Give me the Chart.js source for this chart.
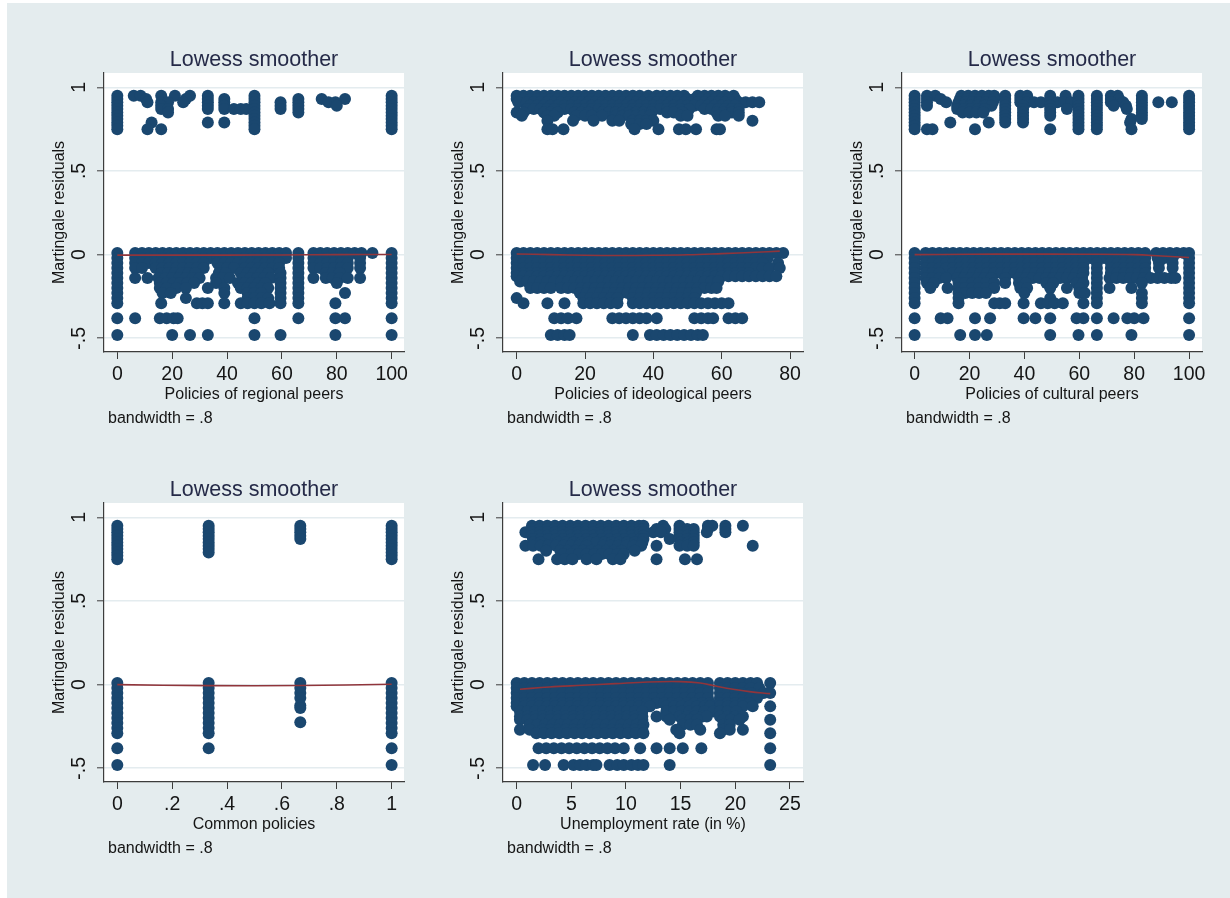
<!DOCTYPE html>
<html>
<head>
<meta charset="utf-8">
<title>Lowess smoothers of Martingale residuals</title>
<script src="https://cdn.jsdelivr.net/npm/chart.js@4.4.1/dist/chart.umd.min.js"></script>
<style>
  html, body { margin: 0; padding: 0; background: #ffffff; width: 1230px; height: 898px; overflow: hidden; }
  #graph { position: absolute; left: 7px; top: 3px; width: 1223px; height: 895px; background: #e4ecee; }
  canvas { position: absolute; }
</style>
</head>
<body>
<div id="graph"></div>
<script>
// ---------- axis ticks ----------
const yTickValues = [-0.5, 0, 0.5, 1];
const yTickLabels = ['-.5', '0', '.5', '1'];
const peerTickValues = [0, 20, 40, 60, 80, 100];
const peerTickLabels = ['0', '20', '40', '60', '80', '100'];
const ideoTickValues = [0, 20, 40, 60, 80];
const ideoTickLabels = ['0', '20', '40', '60', '80'];
const commonTickValues = [0, 0.2, 0.4, 0.6, 0.8, 1];
const commonTickLabels = ['0', '.2', '.4', '.6', '.8', '1'];
const unempTickValues = [0, 5, 10, 15, 20, 25];
const unempTickLabels = ['0', '5', '10', '15', '20', '25'];

// ---------- residuals: each row is [residual, [covariate values]] ----------
const regionalRows = [
  [0.95, [0, 6, 8.5, 16, 21, 26.5, 33, 50, 100]],
  [0.93, [0, 10.5, 25, 33, 39, 50, 66, 74.5, 83, 100]],
  [0.91, [0, 11, 16, 18.5, 24, 33, 39, 50, 59.5, 66, 77, 79.5, 100]],
  [0.89, [0, 16, 33, 39, 50, 59.5, 66, 80, 100]],
  [0.87, [0, 16, 18.5, 33, 39, 42.5, 45, 47, 50, 59.5, 66, 100]],
  [0.85, [0, 18.5, 50, 66, 100]],
  [0.83, [0, 50, 100]],
  [0.81, [0, 50, 100]],
  [0.79, [0, 12.5, 33, 39, 50, 100]],
  [0.77, [0, 50, 100]],
  [0.75, [0, 11, 16, 50, 100]],
  [0.01, [0, 6.5, 9, 11.5, 14, 16.5, 19, 21.5, 24, 26.5, 29, 31.5, 34, 36.5, 39, 41.5, 44, 46.5, 49, 51.5, 54, 56.5, 59, 61.5, 66, 71.5, 74, 76.5, 79, 81.5, 84, 86.5, 89, 93, 100]],
  [-0.02, [0, 6.5, 9, 11.5, 14, 16.5, 19, 21.5, 24, 26.5, 29, 31.5, 34, 36.5, 39, 41.5, 44, 46.5, 49, 51.5, 54, 56.5, 59, 61.5, 66, 71.5, 74, 76.5, 79, 81.5, 84, 88.5, 100]],
  [-0.05, [0, 6.5, 9, 11.5, 14, 16.5, 19, 21.5, 24, 26.5, 29, 31.5, 36.5, 39, 41.5, 44, 46.5, 49, 51.5, 54, 56.5, 59, 66, 71.5, 74, 76.5, 79, 81.5, 84, 88.5, 100]],
  [-0.08, [0, 6.5, 9, 14, 16.5, 19, 21.5, 24, 26.5, 29, 31.5, 37.5, 40, 42.5, 46.5, 49, 51.5, 54, 56.5, 59, 66, 71.5, 74, 76.5, 79, 81.5, 84, 88.5, 100]],
  [-0.11, [0, 16, 18.5, 21, 23.5, 26, 28.5, 37, 39.5, 45, 47.5, 50, 52.5, 55, 59.5, 66, 76, 78.5, 81, 100]],
  [-0.14, [0, 6.5, 11, 15, 17.5, 20, 22.5, 25, 27.5, 30, 36, 38.5, 41, 46, 48.5, 51, 53.5, 56, 59.5, 66, 71.5, 76, 78.5, 81, 84, 88.5, 100]],
  [-0.17, [0, 15.5, 18, 20.5, 23, 25.5, 28, 36, 44, 46.5, 49, 51.5, 54, 59.5, 66, 80, 100]],
  [-0.2, [0, 15.5, 18, 21.5, 25, 33, 39, 45, 47.5, 50, 52.5, 55, 59.5, 66, 100]],
  [-0.23, [0, 16.5, 19.5, 39, 47.5, 50, 52.5, 59.5, 66, 83, 100]],
  [-0.26, [0, 25, 47.5, 50, 52.5, 55, 59.5, 66, 100]],
  [-0.29, [0, 16, 29, 31, 33, 39, 45, 47.5, 50, 52.5, 55.5, 59.5, 66, 79.5, 100]],
  [-0.38, [0, 6.5, 15.5, 18, 20.5, 22, 50, 66, 79.5, 83, 100]],
  [-0.48, [0, 20, 26.5, 33, 50, 59.5, 79.5, 100]]
];

const ideologicalRows = [
  [0.95, [0, 2, 4, 6, 8, 10, 12, 14, 16, 18, 20, 22, 24, 26, 28, 30, 32, 34, 36, 38.5, 41, 43, 45, 47, 49, 53, 55, 57, 59, 61, 63.5]],
  [0.93, [0, 2, 4, 6, 8, 10, 12, 14, 16, 18, 20, 22, 24, 26, 28, 30, 32, 34, 36, 38, 40, 42, 44, 46, 48, 50, 52, 54, 56, 58, 60, 62, 64]],
  [0.91, [0.5, 3, 5, 7, 9, 11, 13, 15, 17, 19, 21, 23, 25, 27, 29, 31, 33, 35, 37, 39, 41, 43, 45, 47, 49, 51, 53, 55, 57, 59, 61, 63, 65, 67, 69, 71]],
  [0.89, [4, 6, 8, 10, 12, 14, 16, 18, 20, 22, 24, 26, 28, 30, 32, 34, 36, 38, 40, 42, 44, 46, 48, 50, 52, 54, 56, 58, 60, 62, 64]],
  [0.87, [3, 5, 7, 9, 11, 14, 16, 18, 20, 22, 24, 26, 28, 30, 32, 34, 36, 38, 40, 42, 44, 46, 48, 50.5, 55, 57, 59, 61, 63, 65]],
  [0.85, [0, 2, 8, 10, 12, 17, 19, 21, 25, 27, 29, 31, 33, 35, 37, 39.5, 44, 46, 48.5, 58.5, 60.5, 63, 65]],
  [0.83, [1.5, 9, 11, 17.5, 20, 22, 25, 29, 31, 33, 35, 37, 39, 48, 50, 59, 61, 65]],
  [0.8, [9, 16.5, 22.5, 28, 30, 34, 36, 38, 40, 69]],
  [0.78, [33.5, 36, 38]],
  [0.75, [9, 10.5, 13.7, 34.5, 41.5, 47.5, 49.5, 52.5, 58.5, 59.5]],
  [0.01, [0, 2, 4, 6, 8, 10, 12, 14, 16, 18, 20, 22, 24, 26, 28, 30, 32, 34, 36, 38, 40, 42, 44, 46, 48, 50, 52, 54, 56, 58, 60, 62, 64, 66, 68, 70, 72, 74, 76, 78]],
  [-0.02, [0, 2, 4, 6, 8, 10, 12, 14, 16, 18, 20, 22, 24, 26, 28, 30, 32, 34, 36, 38, 40, 42, 44, 46, 48, 50, 52, 54, 56, 58, 60, 62, 64, 66, 68, 70, 72, 73.5]],
  [-0.05, [0, 2, 4, 6, 8, 10, 12, 14, 16, 18, 20, 22, 24, 26, 28, 30, 32, 34, 36, 38, 40, 42, 44, 46, 48, 50, 52, 54, 56, 58, 60, 62, 64, 66, 68, 70, 72, 76.5]],
  [-0.08, [0, 2, 4, 6, 8, 10, 12, 14, 16, 18, 20, 22, 24, 26, 28, 30, 32, 34, 36, 38, 40, 42, 44, 46, 48, 50, 52, 54, 56, 58, 60, 62, 64, 66, 68, 70, 72, 74, 77]],
  [-0.11, [0, 2, 4, 6, 8, 10, 12, 14, 16, 18, 20, 22, 24, 26, 28, 30, 32, 34, 36, 38, 40, 42, 44, 46, 48, 50, 52, 54, 56, 58, 60, 62, 64, 66, 68]],
  [-0.13, [0, 2, 4, 6, 8, 10, 12, 14, 16, 18, 20, 22, 24, 26, 28, 30, 32, 34, 36, 38, 40, 42, 44, 46, 48, 50, 52, 54, 56, 58, 60, 62, 64, 66, 68, 70, 72, 74, 76]],
  [-0.16, [1, 3, 5, 7, 9, 11, 13, 15, 17, 19, 21, 23, 25, 27, 29, 31, 33, 35, 37, 39, 41, 43, 45, 47, 49, 51, 53, 55, 57, 59]],
  [-0.2, [4, 6, 8, 10, 13, 15, 17, 19, 21, 23, 25, 27, 29, 31, 33, 35, 37, 39, 41, 43, 45, 47, 49, 51, 53, 55, 57, 58.5]],
  [-0.23, [18.5, 20.5, 22.5, 24.5, 26.5, 28.5, 30.5, 32.5, 34.5, 36.5, 38.5, 40.5, 42.5, 44.5, 46.5, 48.5, 50.5, 52.5]],
  [-0.26, [0, 19.5, 21.5, 23.5, 25.5, 27.5, 29.5, 34, 36, 38, 40, 42, 44, 46, 48, 50, 52]],
  [-0.29, [2, 9, 14, 19.5, 21.5, 23.5, 25.5, 27.5, 29.5, 34, 36, 38, 40, 42, 44, 46, 48, 50, 52, 54, 56, 58, 60, 62]],
  [-0.38, [11, 13, 15, 17.5, 28, 30, 32, 34, 36, 38, 41, 52, 54, 56, 57.5, 62, 64, 66]],
  [-0.48, [10, 12, 14, 15.5, 34, 39, 41, 43, 45, 47, 49, 51, 53, 54.5]]
];

const culturalRows = [
  [0.95, [0, 4.5, 7.5, 17, 19.5, 22, 24.5, 27, 29, 33, 38.5, 41, 49.4, 55, 59.7, 66.4, 71.5, 74, 82.8, 100]],
  [0.93, [0, 4.5, 9.5, 16.5, 19, 21.5, 24, 26.5, 29, 33, 38.5, 41, 49.4, 59.7, 66.4, 71.5, 74.5, 82.8, 100]],
  [0.91, [0, 4.5, 11.5, 16, 18.5, 21, 23.5, 26, 28.5, 33, 38.5, 41, 43.5, 46, 49.4, 52, 54.5, 57, 59.7, 66.4, 71.5, 76, 82.8, 88.8, 93.7, 100]],
  [0.89, [0, 4.5, 15.5, 18, 20.5, 23, 25.5, 28, 33, 39.5, 49.4, 59.7, 66.4, 72.5, 77, 82.8, 100]],
  [0.87, [0, 15.5, 18, 20.5, 23, 25.5, 33, 39.5, 49.4, 55.5, 59.7, 66.4, 77.3, 82.8, 100]],
  [0.85, [0, 17.5, 20, 22.5, 25, 33, 39.5, 49.4, 59.7, 66.4, 82.8, 100]],
  [0.83, [0, 33, 39.5, 49.4, 59.7, 66.4, 82.8, 100]],
  [0.81, [0, 33, 39.5, 59.7, 66.4, 79, 82.8, 100]],
  [0.79, [0, 13, 27, 33, 39.5, 59.7, 66.4, 78.5, 100]],
  [0.77, [0, 59.7, 66.4, 100]],
  [0.75, [0, 4.5, 6.5, 22, 49.4, 59.7, 66.4, 79, 100]],
  [0.01, [0, 4, 6.5, 9, 11.5, 14, 16.5, 19, 21.5, 24, 26.5, 29, 31.5, 34, 36.5, 39, 41.5, 44, 46.5, 49, 51.5, 54, 56.5, 59, 61.5, 64, 66.5, 69, 71.5, 74, 76.5, 79, 81.5, 84, 88, 90.5, 93, 95.5, 98, 100]],
  [-0.02, [0, 4, 6.5, 9, 11.5, 14, 16.5, 19, 21.5, 24, 26.5, 29, 31.5, 34, 36.5, 39, 41.5, 44, 46.5, 49, 51.5, 54, 56.5, 59, 61.5, 64, 66.5, 69, 71.5, 74, 76.5, 79, 81.5, 84, 88.5, 91, 94, 100]],
  [-0.05, [0, 4, 6.5, 9, 11.5, 14, 16.5, 19, 21.5, 24, 26.5, 29, 31.5, 34, 36.5, 39, 41.5, 44, 46.5, 49, 51.5, 54, 56.5, 59, 61.5, 66.4, 71.5, 74, 76.5, 79, 81.5, 84, 89, 94, 100]],
  [-0.08, [0, 4, 6.5, 9, 11.5, 14, 16.5, 19, 21.5, 24, 26.5, 29, 31.5, 34, 36.5, 39, 41.5, 44, 46.5, 49, 51.5, 54, 56.5, 59, 61.5, 66.4, 71.5, 74, 76.5, 79, 81.5, 84, 89, 94, 100]],
  [-0.11, [0, 4, 6.5, 9, 14, 16.5, 19, 21.5, 24, 26.5, 29, 31.5, 34, 36.5, 39, 41.5, 44, 46.5, 49, 51.5, 54, 56.5, 59, 61.5, 66.4, 71.5, 74, 76.5, 79, 81.5, 84, 100]],
  [-0.14, [0, 4, 6.5, 9, 11.5, 15.5, 18, 20.5, 23, 25.5, 28, 33, 38, 40.5, 43, 45.5, 48, 50.5, 53, 55.5, 58, 61, 66.4, 71, 73.5, 76, 78.5, 81, 83.5, 86, 88.5, 91, 93.5, 95, 100]],
  [-0.17, [0, 4.5, 7, 16, 18.5, 21, 23.5, 26, 29, 33, 38, 40.5, 48, 50.5, 59, 61.5, 66.4, 82.8, 100]],
  [-0.2, [0, 5.7, 12, 16, 18.5, 21, 23.5, 26, 29, 38.5, 41, 49.4, 55.5, 60, 66.4, 71, 79, 100]],
  [-0.23, [0, 16, 18.5, 21, 23.5, 26, 40, 60, 62, 66.4, 82.8, 100]],
  [-0.26, [0, 16, 49.4, 66.4, 82.8, 100]],
  [-0.29, [0, 16, 29, 31, 33, 39.7, 46, 48.5, 51, 54, 61.5, 66.4, 82.8, 100]],
  [-0.38, [0, 9.5, 12, 22, 27.5, 39.7, 44, 49.4, 59, 61.5, 66.4, 72.5, 77.5, 80, 83.4, 100]],
  [-0.48, [0, 16.6, 22, 26.3, 49.4, 59.7, 66.4, 79, 100]]
];

const commonRows = [
  [0.95, [0, 0.333, 0.667, 1]],
  [0.93, [0, 0.333, 0.667, 1]],
  [0.91, [0, 0.333, 0.667, 1]],
  [0.89, [0, 0.333, 0.667, 1]],
  [0.87, [0, 0.333, 0.667, 1]],
  [0.85, [0, 0.333, 1]],
  [0.83, [0, 0.333, 1]],
  [0.81, [0, 0.333, 1]],
  [0.79, [0, 0.333, 1]],
  [0.77, [0, 1]],
  [0.75, [0, 1]],
  [0.01, [0, 0.333, 0.667, 1]],
  [-0.02, [0, 0.333, 0.667, 1]],
  [-0.05, [0, 0.333, 0.667, 1]],
  [-0.08, [0, 0.333, 0.667, 1]],
  [-0.11, [0, 0.333, 1]],
  [-0.125, [0.667]],
  [-0.14, [0, 0.333, 0.667, 1]],
  [-0.17, [0, 0.333, 1]],
  [-0.2, [0, 0.333, 1]],
  [-0.225, [0.667]],
  [-0.23, [0, 0.333, 1]],
  [-0.26, [0, 0.333, 1]],
  [-0.29, [0, 0.333, 1]],
  [-0.38, [0, 0.333, 1]],
  [-0.48, [0, 1]]
];

const unemploymentRows = [
  [0.95, [1.4, 2.1, 2.8, 3.5, 4.2, 4.9, 5.6, 6.3, 7, 7.7, 8.4, 9.1, 9.8, 10.5, 11.2, 11.6, 13.4, 14.9, 17.5, 17.9, 19.1, 20.7]],
  [0.93, [1.4, 2.1, 2.8, 3.5, 4.2, 4.9, 5.6, 6.3, 7, 7.7, 8.4, 9.1, 9.8, 10.5, 11.2, 11.6, 12.8, 13.6, 14.9, 15.6, 16.2, 17.5, 19.1]],
  [0.91, [0.8, 1.4, 2.1, 2.8, 3.5, 4.2, 4.9, 5.6, 6.3, 7, 7.7, 8.4, 9.1, 9.8, 10.5, 11.2, 11.6, 12.5, 13.2, 14.9, 15.6, 16.2, 17.4, 19.1]],
  [0.89, [1.4, 2.1, 2.8, 3.5, 4.2, 4.9, 5.6, 6.3, 7, 7.7, 8.4, 9.1, 9.8, 10.5, 11.2, 11.6, 14.9, 15.6, 16.2]],
  [0.87, [1.5, 2.2, 2.9, 3.6, 4.3, 5, 5.7, 6.4, 7.1, 7.8, 8.5, 9.2, 9.9, 10.6, 11.3, 11.6, 14, 14.9, 15.6, 16.2]],
  [0.85, [1.5, 2.2, 3.8, 4.5, 5.2, 5.9, 6.6, 7.3, 8, 8.7, 9.4, 10.1, 10.8, 11.5, 15, 15.7, 16.2]],
  [0.83, [0.8, 1.5, 2.2, 2.9, 3.6, 4.3, 5, 5.7, 6.4, 7.9, 8.6, 9.3, 10, 10.7, 11.4, 12.8, 14.9, 15.6, 16.2, 21.6]],
  [0.8, [2.7, 4, 4.7, 5.4, 6.1, 6.8, 7.5, 8.2, 8.9, 9.6, 10.8]],
  [0.78, [4.3, 5, 5.7, 6.4, 7.1, 7.8, 8.5, 9.2, 9.8]],
  [0.75, [2, 3.7, 4.4, 5.1, 6.4, 7.3, 8.8, 9.5, 12.8, 15.4, 16.5]],
  [0.01, [0, 0.7, 1.4, 2.1, 2.8, 3.5, 4.2, 4.9, 5.6, 6.3, 7, 7.7, 8.4, 9.1, 9.8, 10.5, 11.2, 11.9, 12.6, 13.3, 14, 14.7, 15.4, 16.1, 16.8, 17.5, 18.6, 19.3, 20, 20.7, 21.4, 22, 23.2]],
  [-0.02, [0, 0.7, 1.4, 2.1, 2.8, 3.5, 4.2, 4.9, 5.6, 6.3, 7, 7.7, 8.4, 9.1, 9.8, 10.5, 11.2, 11.9, 12.6, 13.3, 14, 14.7, 15.4, 16.1, 16.8, 17.5, 18.6, 19.3, 20, 20.7, 21.4, 22.2]],
  [-0.05, [0, 0.7, 1.4, 2.1, 2.8, 3.5, 4.2, 4.9, 5.6, 6.3, 7, 7.7, 8.4, 9.1, 9.8, 10.5, 11.2, 11.9, 12.6, 13.3, 14, 14.7, 15.4, 16.1, 16.8, 17.5, 18.6, 19.3, 20, 20.7, 21.4, 22.6, 23.2]],
  [-0.08, [0, 0.7, 1.4, 2.1, 2.8, 3.5, 4.2, 4.9, 5.6, 6.3, 7, 7.7, 8.4, 9.1, 9.8, 10.5, 11.2, 11.9, 12.6, 13.3, 14, 14.7, 15.4, 16.1, 16.8, 17.5, 18.6, 19.3, 20, 20.7, 21.4, 22]],
  [-0.11, [0, 0.7, 1.4, 2.1, 2.8, 3.5, 4.2, 4.9, 5.6, 6.3, 7, 7.7, 8.4, 9.1, 9.8, 10.5, 11.2, 11.9, 12.8, 13.5, 14.2, 14.9, 15.6, 16.3, 17, 17.7, 18.6, 19.3, 20, 20.7, 21.3]],
  [-0.13, [0, 0.7, 1.4, 2.1, 2.8, 3.5, 4.2, 4.9, 5.6, 6.3, 7, 7.7, 8.4, 9.1, 9.8, 10.5, 11.2, 11.9, 12.2, 13.7, 14.4, 15.1, 15.8, 16.5, 17.2, 17.7, 18.6, 19.3, 20, 20.7, 21.6, 23.2]],
  [-0.16, [0.3, 1, 1.7, 2.4, 3.1, 3.8, 4.5, 5.2, 5.9, 6.6, 7.3, 8, 8.7, 9.4, 10.1, 10.8, 11.5, 13.7, 14.4, 15.1, 15.8, 16.5, 17.2, 18, 18.6, 19.3, 20.1]],
  [-0.19, [0.3, 1, 1.7, 2.4, 3.1, 3.8, 4.5, 5.2, 5.9, 6.6, 7.3, 8, 8.7, 9.4, 10.1, 10.8, 11.5, 12.8, 13.7, 14.9, 15.6, 16.3, 17, 17.4, 18.6, 19.3, 20, 20.7]],
  [-0.21, [0.3, 1, 1.7, 2.4, 3.1, 3.8, 4.5, 5.2, 5.9, 6.6, 7.3, 8, 8.7, 9.4, 10.1, 10.8, 11.5, 14, 15.2, 15.9, 16.5, 18.9, 19.6, 20.4, 23.2]],
  [-0.24, [1.2, 1.9, 2.6, 3.3, 4, 4.7, 5.4, 6.1, 6.8, 7.5, 8.2, 8.9, 9.6, 10.3, 11, 11.6, 15.2, 15.9, 16.5, 18.9, 19.5]],
  [-0.27, [0.3, 1.2, 2.4, 3.1, 3.8, 4.5, 5.2, 5.9, 6.6, 7.3, 8, 8.7, 9.4, 10.1, 10.8, 11.5, 14.6, 16.8, 18.9, 19.5, 20.7]],
  [-0.29, [1.8, 2.5, 3.2, 3.9, 4.6, 5.3, 6, 6.7, 7.4, 8.1, 8.8, 9.5, 10.2, 10.9, 11.6, 14.9, 18.6, 23.2]],
  [-0.38, [2, 2.7, 3.4, 4.1, 4.8, 5.5, 6.2, 6.9, 7.6, 8.3, 9, 9.8, 11.3, 12.8, 14, 15.2, 16.9, 23.2]],
  [-0.48, [1.5, 2.6, 4.3, 5.2, 5.8, 6.4, 7, 7.3, 8.5, 9.2, 9.8, 10.5, 11.1, 11.6, 14, 23.2]]
];

// ---------- lowess fits (bandwidth .8) ----------
const regionalLowessX = [0, 20, 40, 60, 80, 100];
const regionalLowessY = [-0.003, -0.003, -0.003, -0.002, 0.0, 0.001];
const ideologicalLowessX = [0, 10, 20, 30, 40, 50, 60, 70, 77];
const ideologicalLowessY = [0.004, 0.0, -0.004, -0.005, -0.004, -0.001, 0.006, 0.014, 0.021];
const culturalLowessX = [0, 20, 40, 60, 80, 90, 100];
const culturalLowessY = [0.0, 0.002, 0.003, 0.002, 0.0, -0.008, -0.017];
const commonLowessX = [0, 0.333, 0.667, 1];
const commonLowessY = [0.0, -0.006, -0.005, 0.002];
const unemploymentLowessX = [0.3, 3, 6, 9, 12, 15, 16.8, 18.3, 19.8, 21.3, 23.2];
const unemploymentLowessY = [-0.028, -0.014, -0.004, 0.006, 0.016, 0.018, 0.01, -0.01, -0.028, -0.042, -0.054];

// ---------- look ----------
const FONT = '"Liberation Sans", Arial, Helvetica, sans-serif';
const MARKER = '#1a476f';
const LOWESS = '#90353b';
const AXIS = '#3c3c3c';
const GRID = '#e4ecef';
const TITLE_INK = '#252a48';
const TEXT_INK = '#151515';

const PLOT_W = 300, PLOT_H = 279;
const PAD = { left: 62, top: 45, right: 22, bottom: 80 };
const Y_MIN = -0.582, Y_MAX = 1.0855;

function rowsToPoints(rows) {
  const pts = [];
  rows.forEach(([y, xs]) => xs.forEach(x => pts.push({ x, y })));
  return pts;
}
function zipXY(xs, ys) { return xs.map((x, i) => ({ x, y: ys[i] })); }

const panelText = {
  id: 'panelText',
  beforeDraw(chart) {
    const { ctx, chartArea: a } = chart;
    ctx.save();
    ctx.fillStyle = '#ffffff';
    ctx.fillRect(a.left, a.top, a.right - a.left, a.bottom - a.top);
    ctx.restore();
  },
  afterDraw(chart, args, o) {
    const { ctx, chartArea: a, scales } = chart;
    const cx = (a.left + a.right) / 2;
    ctx.save();
    ctx.textBaseline = 'alphabetic';
    ctx.textAlign = 'center';
    // plot title
    ctx.fillStyle = TITLE_INK;
    ctx.font = '21.5px ' + FONT;
    ctx.fillText(o.title, cx, a.top - 7.5);
    // x tick labels
    ctx.fillStyle = TEXT_INK;
    ctx.font = '19.5px ' + FONT;
    o.xTicks.forEach((v, i) => ctx.fillText(o.xLabels[i], scales.x.getPixelForValue(v), a.bottom + 28));
    // y tick labels, rotated
    yTickValues.forEach((v, i) => {
      ctx.save();
      ctx.translate(a.left - 19, scales.y.getPixelForValue(v));
      ctx.rotate(-Math.PI / 2);
      ctx.fillText(yTickLabels[i], 0, 0);
      ctx.restore();
    });
    // axis titles
    ctx.font = '16px ' + FONT;
    ctx.fillText(o.xTitle, cx, a.bottom + 47);
    ctx.save();
    ctx.translate(a.left - 40, (a.top + a.bottom) / 2);
    ctx.rotate(-Math.PI / 2);
    ctx.fillText(o.yTitle, 0, 0);
    ctx.restore();
    // note
    ctx.textAlign = 'left';
    ctx.fillText(o.note, a.left + 4, a.bottom + 71);
    ctx.restore();
  }
};

function makePanel(p) {
  const canvas = document.createElement('canvas');
  const w = PAD.left + PLOT_W + PAD.right;
  const h = PAD.top + PLOT_H + PAD.bottom;
  canvas.width = w; canvas.height = h;
  canvas.style.left = (p.left - PAD.left) + 'px';
  canvas.style.top = (p.top - PAD.top) + 'px';
  canvas.style.width = w + 'px'; canvas.style.height = h + 'px';
  document.body.appendChild(canvas);

  new Chart(canvas, {
    type: 'scatter',
    data: {
      datasets: [
        {
          label: 'lowess',
          data: zipXY(p.lowessX, p.lowessY),
          showLine: true,
          borderColor: LOWESS,
          borderWidth: 1.6,
          tension: 0.4,
          pointRadius: 0,
          fill: false
        },
        {
          label: 'residuals',
          data: rowsToPoints(p.rows),
          pointRadius: 6,
          pointBackgroundColor: MARKER,
          pointBorderColor: MARKER,
          pointBorderWidth: 0
        }
      ]
    },
    options: {
      responsive: false,
      animation: false,
      events: [],
      devicePixelRatio: 1,
      layout: { padding: PAD },
      plugins: {
        legend: { display: false },
        tooltip: { enabled: false },
        title: { display: false },
        panelText: {
          title: 'Lowess smoother',
          xTicks: p.xTicks, xLabels: p.xLabels,
          xTitle: p.xTitle, yTitle: 'Martingale residuals',
          note: 'bandwidth = .8'
        }
      },
      scales: {
        x: {
          type: 'linear', position: 'bottom',
          min: p.xMin, max: p.xMax,
          afterFit: s => { s.height = 0; },
          afterBuildTicks: s => { s.ticks = p.xTicks.map(v => ({ value: v })); },
          ticks: { display: false },
          grid: { display: true, drawOnChartArea: false, drawTicks: true, tickLength: 7, tickColor: AXIS, tickWidth: 1 },
          border: { display: true, color: AXIS, width: 1.2 },
          title: { display: false }
        },
        y: {
          type: 'linear', position: 'left',
          min: Y_MIN, max: Y_MAX,
          afterFit: s => { s.width = 0; },
          afterBuildTicks: s => { s.ticks = yTickValues.map(v => ({ value: v })); },
          ticks: { display: false },
          grid: { display: true, drawOnChartArea: true, drawTicks: true, tickLength: 7, color: GRID, lineWidth: 1.6, tickColor: AXIS, tickWidth: 1 },
          border: { display: true, color: AXIS, width: 1.2 },
          title: { display: false }
        }
      }
    },
    plugins: [panelText]
  });
}

const panels = [
  { left: 104, top: 73, rows: regionalRows, lowessX: regionalLowessX, lowessY: regionalLowessY,
    xMin: -4.85, xMax: 104.5, xTicks: peerTickValues, xLabels: peerTickLabels, xTitle: 'Policies of regional peers' },
  { left: 503, top: 73, rows: ideologicalRows, lowessX: ideologicalLowessX, lowessY: ideologicalLowessY,
    xMin: -4.0, xMax: 83.8, xTicks: ideoTickValues, xLabels: ideoTickLabels, xTitle: 'Policies of ideological peers' },
  { left: 902, top: 73, rows: culturalRows, lowessX: culturalLowessX, lowessY: culturalLowessY,
    xMin: -4.6, xMax: 104.7, xTicks: peerTickValues, xLabels: peerTickLabels, xTitle: 'Policies of cultural peers' },
  { left: 104, top: 503, rows: commonRows, lowessX: commonLowessX, lowessY: commonLowessY,
    xMin: -0.0485, xMax: 1.045, xTicks: commonTickValues, xLabels: commonTickLabels, xTitle: 'Common policies' },
  { left: 503, top: 503, rows: unemploymentRows, lowessX: unemploymentLowessX, lowessY: unemploymentLowessY,
    xMin: -1.25, xMax: 26.2, xTicks: unempTickValues, xLabels: unempTickLabels, xTitle: 'Unemployment rate (in %)' }
];

panels.forEach(makePanel);
</script>
</body>
</html>
